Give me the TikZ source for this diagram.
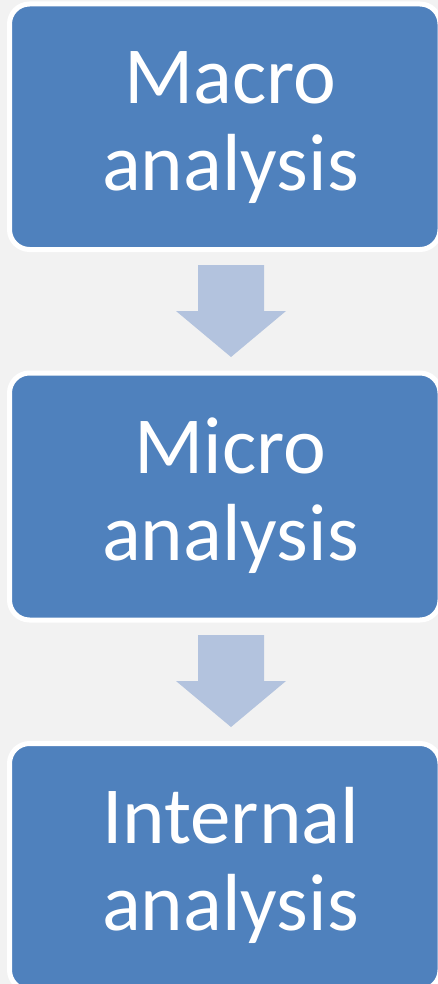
\documentclass[tikz,border=0pt]{standalone}
\usepackage{fontspec}
\setmainfont{Carlito}
\definecolor{bg}{HTML}{F2F2F2}
\definecolor{boxblue}{HTML}{4F81BD}
\definecolor{arrowblue}{HTML}{B3C3DE}
\tikzset{
  stage/.style={rectangle, draw=white, line width=5pt, fill=boxblue,
    rounded corners=20pt, minimum width=430.5pt, inner sep=0pt, outer sep=0pt},
  label/.style={anchor=base, inner sep=0pt, text=white,
    font=\fontsize{81}{87}\selectfont},
  blockarrow/.pic={
    \fill[arrowblue] (-33,0) -- (33,0) -- (33,46) -- (55,46) -- (0,92)
      -- (-55,46) -- (-33,46) -- cycle;
  }
}
\begin{document}
\begin{tikzpicture}[x=1pt,y=-1pt]
\useasboundingbox[fill=bg] (0,0) rectangle (438,984);
\clip (0,0) rectangle (438,984);
\node[stage, minimum height=245.5pt] (b1) at (224.75,126.75) {};
\node[stage, minimum height=247pt] (b2) at (224.75,496.5) {};
\node[stage, minimum height=246.5pt] (b3) at (224.75,866.75) {};
\node[label] (t1a) at (230.5,104) {Macro};
\node[label] (t1b) at (230.5,191) {analysis};
\node[label] (t2a) at (230.5,473) {Micro};
\node[label] (t2b) at (230.5,560) {analysis};
\node[label] (t3a) at (230.5,843.5) {Internal};
\node[label] (t3b) at (230.5,930.5) {analysis};
\coordinate (a1) at (231,265);
\coordinate (a2) at (231,635);
\pic at (a1) {blockarrow};
\pic at (a2) {blockarrow};
\end{tikzpicture}
\end{document}
